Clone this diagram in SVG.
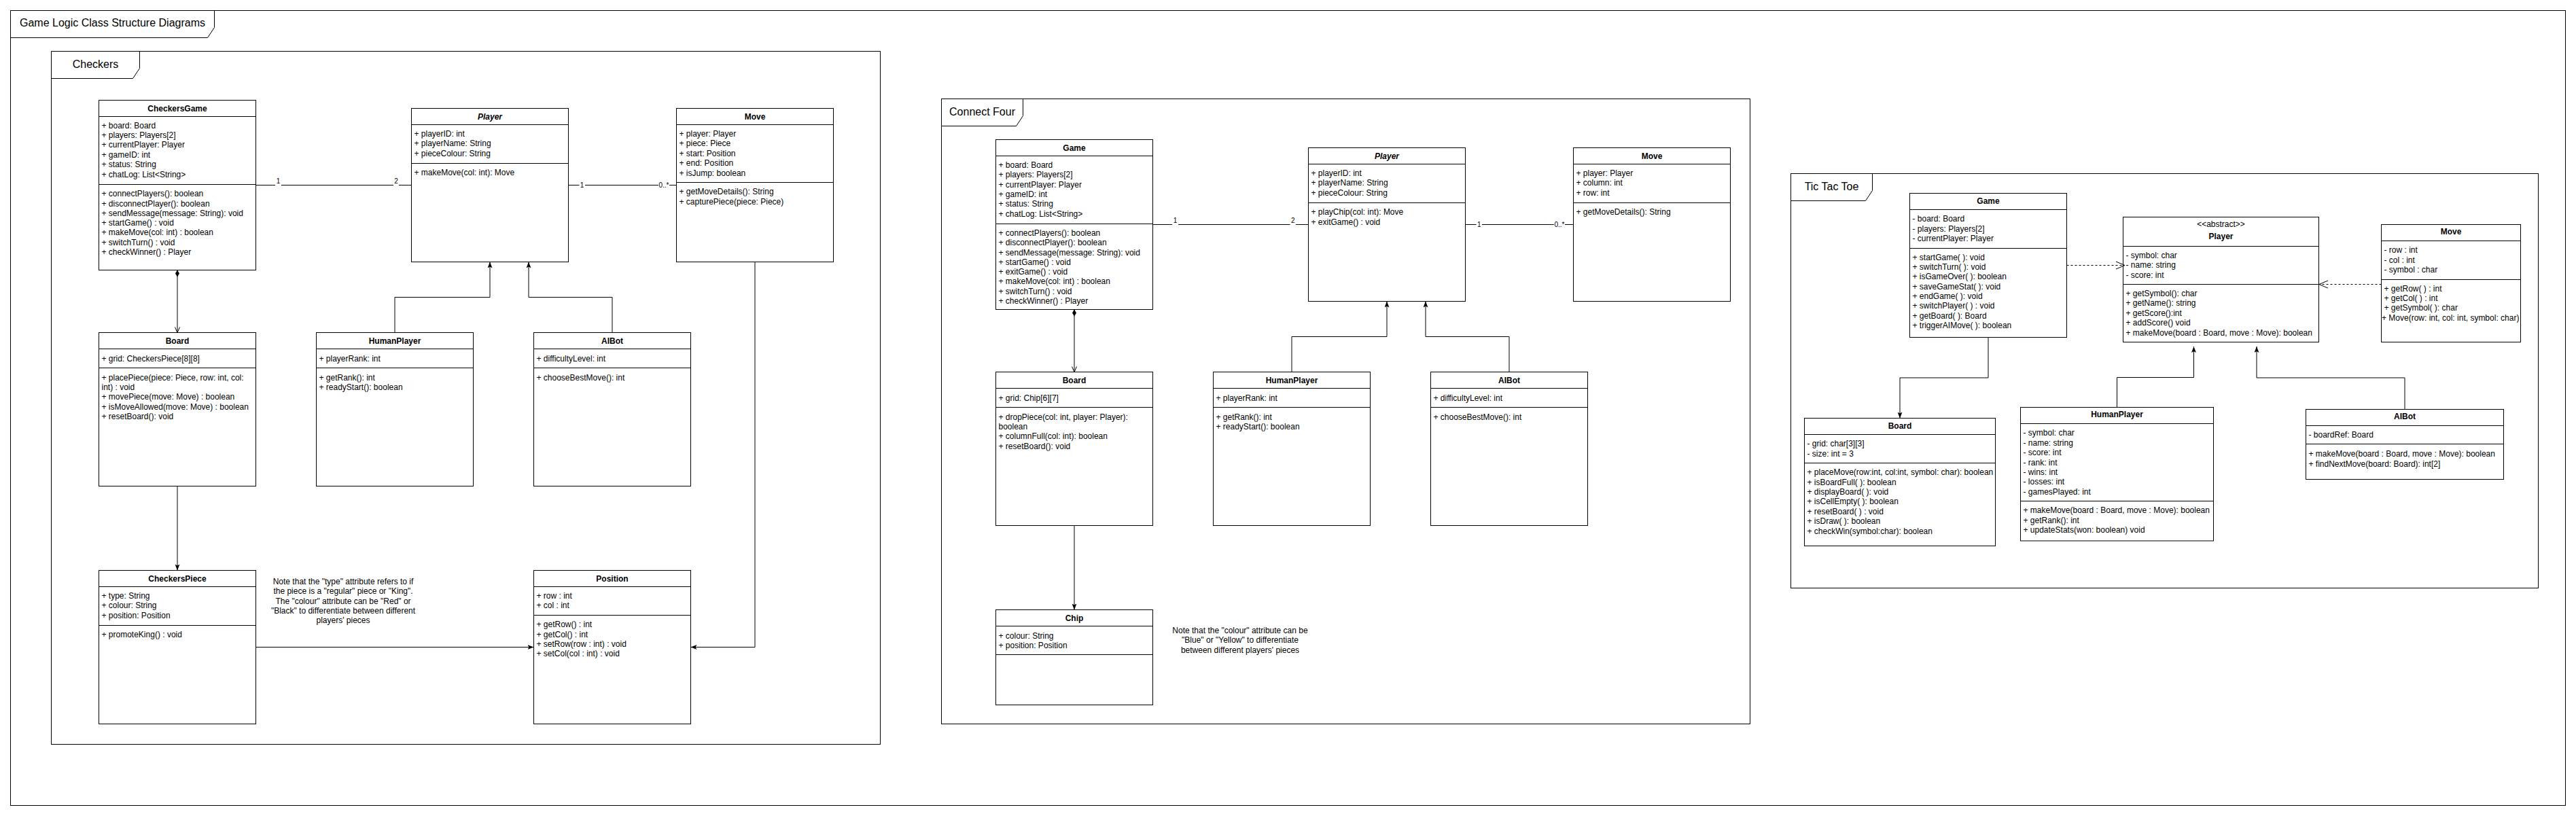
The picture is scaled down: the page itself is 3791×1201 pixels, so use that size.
<svg xmlns="http://www.w3.org/2000/svg" width="3791" height="1201" viewBox="0 0 3791 1201">
<style>
.bx{fill:#fff;stroke:#000;stroke-width:1}
.fr{fill:none;stroke:#000;stroke-width:1}
.tab{fill:#fff;stroke:#000;stroke-width:1}
.ln{fill:none;stroke:#000;stroke-width:1}
.t{font-family:"Liberation Sans",Arial,Helvetica,sans-serif;font-size:12px;fill:#000}
.h{font-weight:bold;text-anchor:middle}
.it{font-style:italic}
.ft{font-family:"Liberation Sans",Arial,Helvetica,sans-serif;font-size:16px;fill:#000;text-anchor:middle}
.nt{text-anchor:middle}
.ml{font-family:"Liberation Sans",Arial,Helvetica,sans-serif;font-size:10px;fill:#000;text-anchor:middle}
.c{fill:none;stroke:#000;stroke-width:1}
.d{stroke-dasharray:3 3}
.lb{fill:#fff;stroke:none}
</style>
<defs>
<marker id="af" viewBox="0 0 9 7" refX="9" refY="3.5" markerWidth="9" markerHeight="7" orient="auto" markerUnits="userSpaceOnUse"><path d="M0,0 L9,3.5 L0,7 L2,3.5 Z" fill="#000"/></marker>
<marker id="ao" viewBox="-1 -1 10 9" refX="8" refY="3.5" markerWidth="10" markerHeight="9" orient="auto" markerUnits="userSpaceOnUse"><path d="M0,0 L8,3.5 L0,7" fill="none" stroke="#000" stroke-width="1"/></marker>
<marker id="aoL" viewBox="-1 -1 15 13" refX="13" refY="5.5" markerWidth="15" markerHeight="13" orient="auto" markerUnits="userSpaceOnUse"><path d="M0,0 L13,5.5 L0,11" fill="none" stroke="#000" stroke-width="1"/></marker>
<marker id="dm" viewBox="0 0 10 6" refX="0" refY="3" markerWidth="10" markerHeight="6" orient="auto" markerUnits="userSpaceOnUse"><path d="M0,3 L5,0 L10,3 L5,6 Z" fill="#000"/></marker>
</defs>
<rect width="3791" height="1201" fill="#fff"/>

<g id="frame-main">
<rect class="fr" x="15.5" y="15.5" width="3760" height="1170"/>
<path class="tab" d="M15.5,15.5 H315.5 V40.5 L305.5,55.5 H15.5 Z"/>
<text class="ft" x="165.5" y="39">Game Logic Class Structure Diagrams</text>
</g>

<g id="frame-checkers">
<rect class="fr" x="75.5" y="75.5" width="1220" height="1020"/>
<path class="tab" d="M75.5,75.5 H205.5 V100.5 L195.5,115.5 H75.5 Z"/>
<text class="ft" x="140.5" y="100">Checkers</text>
</g>

<g id="frame-connectfour">
<rect class="fr" x="1385.5" y="145.5" width="1190" height="920"/>
<path class="tab" d="M1385.5,145.5 H1505.5 V170.5 L1495.5,185.5 H1385.5 Z"/>
<text class="ft" x="1445.5" y="170">Connect Four</text>
</g>

<g id="frame-tictactoe">
<rect class="fr" x="2635.5" y="255.5" width="1100" height="610"/>
<path class="tab" d="M2635.5,255.5 H2755.5 V280.5 L2745.5,295.5 H2635.5 Z"/>
<text class="ft" x="2695.5" y="279.5">Tic Tac Toe</text>
</g>

<!-- ================= CHECKERS ================= -->
<g id="ck-game">
<rect class="bx" x="145.5" y="147.5" width="231" height="250"/>
<path class="ln" d="M145.5,171.5 H376.5 M145.5,271.5 H376.5"/>
<text class="t h" x="261" y="163.8">CheckersGame</text>
<text class="t"><tspan x="149.5" y="188.5">+ board: Board</tspan><tspan x="149.5" y="202.9">+ players: Players[2]</tspan><tspan x="149.5" y="217.3">+ currentPlayer: Player</tspan><tspan x="149.5" y="231.7">+ gameID: int</tspan><tspan x="149.5" y="246.1">+ status: String</tspan><tspan x="149.5" y="260.5">+ chatLog: List&lt;String&gt;</tspan></text>
<text class="t"><tspan x="149.5" y="289.2">+ connectPlayers(): boolean</tspan><tspan x="149.5" y="303.5">+ disconnectPlayer(): boolean</tspan><tspan x="149.5" y="317.8">+ sendMessage(message: String): void</tspan><tspan x="149.5" y="332.1">+ startGame() : void</tspan><tspan x="149.5" y="346.4">+ makeMove(col: int) : boolean</tspan><tspan x="149.5" y="360.7">+ switchTurn() : void</tspan><tspan x="149.5" y="375">+ checkWinner() : Player</tspan></text>
</g>

<g id="ck-player">
<rect class="bx" x="605.5" y="159.5" width="231" height="226"/>
<path class="ln" d="M605.5,183.5 H836.5 M605.5,240.5 H836.5"/>
<text class="t h it" x="721" y="175.8">Player</text>
<text class="t"><tspan x="609.5" y="200.9">+ playerID: int</tspan><tspan x="609.5" y="215.3">+ playerName: String</tspan><tspan x="609.5" y="229.7">+ pieceColour: String</tspan></text>
<text class="t" x="609.5" y="258.2">+ makeMove(col: int): Move</text>
</g>

<g id="ck-move">
<rect class="bx" x="995.5" y="159.5" width="231" height="226"/>
<path class="ln" d="M995.5,183.5 H1226.5 M995.5,268.5 H1226.5"/>
<text class="t h" x="1111" y="175.8">Move</text>
<text class="t"><tspan x="999.5" y="200.9">+ player: Player</tspan><tspan x="999.5" y="215.3">+ piece: Piece</tspan><tspan x="999.5" y="229.7">+ start: Position</tspan><tspan x="999.5" y="244.1">+ end: Position</tspan><tspan x="999.5" y="258.5">+ isJump: boolean</tspan></text>
<text class="t"><tspan x="999.5" y="286.2">+ getMoveDetails(): String</tspan><tspan x="999.5" y="300.6">+ capturePiece(piece: Piece)</tspan></text>
</g>

<g id="ck-board">
<rect class="bx" x="145.5" y="489.5" width="231" height="226"/>
<path class="ln" d="M145.5,513.5 H376.5 M145.5,541.5 H376.5"/>
<text class="t h" x="261" y="505.8">Board</text>
<text class="t" x="149.5" y="531.5">+ grid: CheckersPiece[8][8]</text>
<text class="t"><tspan x="149.5" y="559.5">+ placePiece(piece: Piece, row: int, col:</tspan><tspan x="149.5" y="573.9">int) : void</tspan><tspan x="149.5" y="588.3">+ movePiece(move: Move) : boolean</tspan><tspan x="149.5" y="602.7">+ isMoveAllowed(move: Move) : boolean</tspan><tspan x="149.5" y="617.1">+ resetBoard(): void</tspan></text>
</g>

<g id="ck-human">
<rect class="bx" x="465.5" y="489.5" width="231" height="226"/>
<path class="ln" d="M465.5,513.5 H696.5 M465.5,541.5 H696.5"/>
<text class="t h" x="581" y="505.8">HumanPlayer</text>
<text class="t" x="469.5" y="531.5">+ playerRank: int</text>
<text class="t"><tspan x="469.5" y="559.5">+ getRank(): int</tspan><tspan x="469.5" y="573.9">+ readyStart(): boolean</tspan></text>
</g>

<g id="ck-aibot">
<rect class="bx" x="785.5" y="489.5" width="231" height="226"/>
<path class="ln" d="M785.5,513.5 H1016.5 M785.5,541.5 H1016.5"/>
<text class="t h" x="901" y="505.8">AIBot</text>
<text class="t" x="789.5" y="531.5">+ difficultyLevel: int</text>
<text class="t" x="789.5" y="559.5">+ chooseBestMove(): int</text>
</g>

<g id="ck-piece">
<rect class="bx" x="145.5" y="839.5" width="231" height="226"/>
<path class="ln" d="M145.5,863.5 H376.5 M145.5,920.5 H376.5"/>
<text class="t h" x="261" y="855.8">CheckersPiece</text>
<text class="t"><tspan x="149.5" y="880.9">+ type: String</tspan><tspan x="149.5" y="895.3">+ colour: String</tspan><tspan x="149.5" y="909.7">+ position: Position</tspan></text>
<text class="t" x="149.5" y="937.5">+ promoteKing() : void</text>
</g>

<g id="ck-position">
<rect class="bx" x="785.5" y="839.5" width="231" height="226"/>
<path class="ln" d="M785.5,863.5 H1016.5 M785.5,905.5 H1016.5"/>
<text class="t h" x="901" y="855.8">Position</text>
<text class="t"><tspan x="789.5" y="880.9">+ row : int</tspan><tspan x="789.5" y="895.3">+ col : int</tspan></text>
<text class="t"><tspan x="789.5" y="923.2">+ getRow() : int</tspan><tspan x="789.5" y="937.6">+ getCol() : int</tspan><tspan x="789.5" y="952">+ setRow(row : int) : void</tspan><tspan x="789.5" y="966.4">+ setCol(col : int) : void</tspan></text>
</g>

<g id="ck-note">
<text class="t nt"><tspan x="505" y="860.2">Note that the "type" attribute refers to if</tspan><tspan x="505" y="874.4">the piece is a "regular" piece or "King".</tspan><tspan x="505" y="888.6">The "colour" attribute can be "Red" or</tspan><tspan x="505" y="902.8">"Black" to differentiate between different</tspan><tspan x="505" y="917">players' pieces</tspan></text>
</g>

<!-- ================= CONNECT FOUR ================= -->
<g id="cf-game">
<rect class="bx" x="1465.5" y="205.5" width="231" height="250"/>
<path class="ln" d="M1465.5,229.5 H1696.5 M1465.5,329.5 H1696.5"/>
<text class="t h" x="1581" y="221.8">Game</text>
<text class="t"><tspan x="1469.5" y="246.7">+ board: Board</tspan><tspan x="1469.5" y="261.1">+ players: Players[2]</tspan><tspan x="1469.5" y="275.5">+ currentPlayer: Player</tspan><tspan x="1469.5" y="289.9">+ gameID: int</tspan><tspan x="1469.5" y="304.3">+ status: String</tspan><tspan x="1469.5" y="318.7">+ chatLog: List&lt;String&gt;</tspan></text>
<text class="t"><tspan x="1469.5" y="346.9">+ connectPlayers(): boolean</tspan><tspan x="1469.5" y="361.2">+ disconnectPlayer(): boolean</tspan><tspan x="1469.5" y="375.5">+ sendMessage(message: String): void</tspan><tspan x="1469.5" y="389.8">+ startGame() : void</tspan><tspan x="1469.5" y="404.1">+ exitGame() : void</tspan><tspan x="1469.5" y="418.4">+ makeMove(col: int) : boolean</tspan><tspan x="1469.5" y="432.7">+ switchTurn() : void</tspan><tspan x="1469.5" y="447">+ checkWinner() : Player</tspan></text>
</g>

<g id="cf-player">
<rect class="bx" x="1925.5" y="217.5" width="231" height="226"/>
<path class="ln" d="M1925.5,241.5 H2156.5 M1925.5,298.5 H2156.5"/>
<text class="t h it" x="2041" y="233.8">Player</text>
<text class="t"><tspan x="1929.5" y="258.9">+ playerID: int</tspan><tspan x="1929.5" y="273.3">+ playerName: String</tspan><tspan x="1929.5" y="287.7">+ pieceColour: String</tspan></text>
<text class="t"><tspan x="1929.5" y="316.2">+ playChip(col: int): Move</tspan><tspan x="1929.5" y="330.6">+ exitGame() : void</tspan></text>
</g>

<g id="cf-move">
<rect class="bx" x="2315.5" y="217.5" width="231" height="226"/>
<path class="ln" d="M2315.5,241.5 H2546.5 M2315.5,298.5 H2546.5"/>
<text class="t h" x="2431" y="233.8">Move</text>
<text class="t"><tspan x="2319.5" y="258.9">+ player: Player</tspan><tspan x="2319.5" y="273.3">+ column: int</tspan><tspan x="2319.5" y="287.7">+ row: int</tspan></text>
<text class="t" x="2319.5" y="316.2">+ getMoveDetails(): String</text>
</g>

<g id="cf-board">
<rect class="bx" x="1465.5" y="547.5" width="231" height="226"/>
<path class="ln" d="M1465.5,571.5 H1696.5 M1465.5,599.5 H1696.5"/>
<text class="t h" x="1581" y="563.8">Board</text>
<text class="t" x="1469.5" y="589.5">+ grid: Chip[6][7]</text>
<text class="t"><tspan x="1469.5" y="617.5">+ dropPiece(col: int, player: Player):</tspan><tspan x="1469.5" y="631.9">boolean</tspan><tspan x="1469.5" y="646.3">+ columnFull(col: int): boolean</tspan><tspan x="1469.5" y="660.7">+ resetBoard(): void</tspan></text>
</g>

<g id="cf-human">
<rect class="bx" x="1785.5" y="547.5" width="231" height="226"/>
<path class="ln" d="M1785.5,571.5 H2016.5 M1785.5,599.5 H2016.5"/>
<text class="t h" x="1901" y="563.8">HumanPlayer</text>
<text class="t" x="1789.5" y="589.5">+ playerRank: int</text>
<text class="t"><tspan x="1789.5" y="617.5">+ getRank(): int</tspan><tspan x="1789.5" y="631.9">+ readyStart(): boolean</tspan></text>
</g>

<g id="cf-aibot">
<rect class="bx" x="2105.5" y="547.5" width="231" height="226"/>
<path class="ln" d="M2105.5,571.5 H2336.5 M2105.5,599.5 H2336.5"/>
<text class="t h" x="2221" y="563.8">AIBot</text>
<text class="t" x="2109.5" y="589.5">+ difficultyLevel: int</text>
<text class="t" x="2109.5" y="617.5">+ chooseBestMove(): int</text>
</g>

<g id="cf-chip">
<rect class="bx" x="1465.5" y="897.5" width="231" height="140"/>
<path class="ln" d="M1465.5,921.5 H1696.5 M1465.5,963.5 H1696.5"/>
<text class="t h" x="1581" y="913.8">Chip</text>
<text class="t"><tspan x="1469.5" y="939.6">+ colour: String</tspan><tspan x="1469.5" y="954">+ position: Position</tspan></text>
</g>

<g id="cf-note">
<text class="t nt"><tspan x="1825" y="931.7">Note that the "colour" attribute can be</tspan><tspan x="1825" y="946.1">"Blue" or "Yellow" to differentiate</tspan><tspan x="1825" y="960.5">between different players' pieces</tspan></text>
</g>

<!-- ================= TIC TAC TOE ================= -->
<g id="ttt-game">
<rect class="bx" x="2810.5" y="284.5" width="231" height="212"/>
<path class="ln" d="M2810.5,308.5 H3041.5 M2810.5,365.5 H3041.5"/>
<text class="t h" x="2926" y="299.5">Game</text>
<text class="t"><tspan x="2814.5" y="326.2">- board: Board</tspan><tspan x="2814.5" y="340.6">- players: Players[2]</tspan><tspan x="2814.5" y="355">- currentPlayer: Player</tspan></text>
<text class="t"><tspan x="2814.5" y="382.8">+ startGame( ): void</tspan><tspan x="2814.5" y="397.1">+ switchTurn( ): void</tspan><tspan x="2814.5" y="411.4">+ isGameOver( ): boolean</tspan><tspan x="2814.5" y="425.7">+ saveGameStat( ): void</tspan><tspan x="2814.5" y="440">+ endGame( ): void</tspan><tspan x="2814.5" y="454.3">+ switchPlayer( ) : void</tspan><tspan x="2814.5" y="468.6">+ getBoard( ): Board</tspan><tspan x="2814.5" y="482.9">+ triggerAIMove( ): boolean</tspan></text>
</g>

<g id="ttt-player">
<rect class="bx" x="3124.5" y="319.5" width="288" height="184"/>
<path class="ln" d="M3124.5,362.5 H3412.5 M3124.5,418.5 H3412.5"/>
<text class="t nt" x="3268.5" y="334.2">&lt;&lt;abstract&gt;&gt;</text>
<text class="t h" x="3268.5" y="352">Player</text>
<text class="t"><tspan x="3128.5" y="380">- symbol: char</tspan><tspan x="3128.5" y="394.4">- name: string</tspan><tspan x="3128.5" y="408.8">- score: int</tspan></text>
<text class="t"><tspan x="3128.5" y="435.8">+ getSymbol(): char</tspan><tspan x="3128.5" y="450.3">+ getName(): string</tspan><tspan x="3128.5" y="464.8">+ getScore():int</tspan><tspan x="3128.5" y="479.1">+ addScore() void</tspan><tspan x="3128.5" y="494">+ makeMove(board : Board, move : Move): boolean</tspan></text>
</g>

<g id="ttt-move">
<rect class="bx" x="3504.5" y="330.5" width="205" height="173"/>
<path class="ln" d="M3504.5,354.5 H3709.5 M3504.5,411.5 H3709.5"/>
<text class="t h" x="3607" y="344.7">Move</text>
<text class="t"><tspan x="3508.5" y="372">- row : int</tspan><tspan x="3508.5" y="386.6">- col : int</tspan><tspan x="3508.5" y="400.9">- symbol : char</tspan></text>
<text class="t"><tspan x="3508.5" y="429">+ getRow( ) : int</tspan><tspan x="3508.5" y="443.1">+ getCol( ) : int</tspan><tspan x="3508.5" y="457.1">+ getSymbol( ): char</tspan><tspan x="3505" y="472">+ Move(row: int, col: int, symbol: char)</tspan></text>
</g>

<g id="ttt-board">
<rect class="bx" x="2655.5" y="615.5" width="281" height="188"/>
<path class="ln" d="M2655.5,639.5 H2936.5 M2655.5,681.5 H2936.5"/>
<text class="t h" x="2796" y="630.5">Board</text>
<text class="t"><tspan x="2659.5" y="657.2">- grid: char[3][3]</tspan><tspan x="2659.5" y="671.7">- size: int = 3</tspan></text>
<text class="t"><tspan x="2659.5" y="699">+ placeMove(row:int, col:int, symbol: char): boolean</tspan><tspan x="2659.5" y="713.9">+ isBoardFull( ): boolean</tspan><tspan x="2659.5" y="727.9">+ displayBoard( ): void</tspan><tspan x="2659.5" y="742">+ isCellEmpty( ): boolean</tspan><tspan x="2659.5" y="756.9">+ resetBoard( ) : void</tspan><tspan x="2659.5" y="770.9">+ isDraw( ): boolean</tspan><tspan x="2659.5" y="785.8">+ checkWin(symbol:char): boolean</tspan></text>
</g>

<g id="ttt-human">
<rect class="bx" x="2973.5" y="599.5" width="284" height="196.5"/>
<path class="ln" d="M2973.5,623.5 H3257.5 M2973.5,737.5 H3257.5"/>
<text class="t h" x="3115.5" y="613.8">HumanPlayer</text>
<text class="t"><tspan x="2977.5" y="641.2">- symbol: char</tspan><tspan x="2977.5" y="655.6">- name: string</tspan><tspan x="2977.5" y="670.1">- score: int</tspan><tspan x="2977.5" y="684.9">- rank: int</tspan><tspan x="2977.5" y="699">- wins: int</tspan><tspan x="2977.5" y="712.7">- losses: int</tspan><tspan x="2977.5" y="727.9">- gamesPlayed: int</tspan></text>
<text class="t"><tspan x="2977.5" y="754.8">+ makeMove(board : Board, move : Move): boolean</tspan><tspan x="2977.5" y="770.1">+ getRank(): int</tspan><tspan x="2977.5" y="783.8">+ updateStats(won: boolean) void</tspan></text>
</g>

<g id="ttt-aibot">
<rect class="bx" x="3393.5" y="602.5" width="291" height="103"/>
<path class="ln" d="M3393.5,626.5 H3684.5 M3393.5,653.5 H3684.5"/>
<text class="t h" x="3539" y="617">AIBot</text>
<text class="t" x="3397.5" y="644">- boardRef: Board</text>
<text class="t"><tspan x="3397.5" y="672.1">+ makeMove(board : Board, move : Move): boolean</tspan><tspan x="3397.5" y="686.5">+ findNextMove(board: Board): int[2]</tspan></text>
</g>

<!-- ================= CONNECTORS ================= -->
<g id="connectors">
<!-- Checkers -->
<path class="c" d="M376.5,272.5 H605.5"/>
<rect class="lb" x="405" y="260" width="9" height="14"/>
<text class="ml" x="409.5" y="270">1</text>
<rect class="lb" x="579" y="260" width="8" height="14"/>
<text class="ml" x="583" y="270">2</text>
<path class="c" d="M836.5,272.5 H995.5"/>
<rect class="lb" x="852.5" y="266" width="8.5" height="13"/>
<text class="ml" x="856.6" y="276">1</text>
<rect class="lb" x="969" y="266" width="16" height="13"/>
<text class="ml" x="977" y="276">0..*</text>
<path class="c" d="M261,397.5 V489.5" marker-start="url(#dm)" marker-end="url(#ao)"/>
<path class="c" d="M261,715.5 V839.5" marker-end="url(#af)"/>
<path class="c" d="M581,489.5 V437.5 H721 V385.5" marker-end="url(#af)"/>
<path class="c" d="M901,489.5 V437.5 H778 V385.5" marker-end="url(#af)"/>
<path class="c" d="M376.5,952.5 H785.5" marker-end="url(#af)"/>
<path class="c" d="M1111,385.5 V952.5 H1016.5" marker-end="url(#af)"/>
<!-- Connect Four -->
<path class="c" d="M1696.5,330.5 H1925.5"/>
<rect class="lb" x="1725" y="318" width="9" height="14"/>
<text class="ml" x="1729.5" y="328">1</text>
<rect class="lb" x="1898.5" y="318" width="8.5" height="14"/>
<text class="ml" x="1902.7" y="328">2</text>
<path class="c" d="M2156.5,330.5 H2315.5"/>
<rect class="lb" x="2172.5" y="324" width="8.5" height="13"/>
<text class="ml" x="2176.8" y="334">1</text>
<rect class="lb" x="2287" y="324" width="16" height="13"/>
<text class="ml" x="2295" y="334">0..*</text>
<path class="c" d="M1581,455.5 V547.5" marker-start="url(#dm)" marker-end="url(#ao)"/>
<path class="c" d="M1581,773.5 V897.5" marker-end="url(#af)"/>
<path class="c" d="M1901,547.5 V495.5 H2041 V443.5" marker-end="url(#af)"/>
<path class="c" d="M2221,547.5 V495.5 H2098 V443.5" marker-end="url(#af)"/>
<!-- Tic Tac Toe -->
<path class="c d" d="M3041.5,390.5 H3127" marker-end="url(#aoL)"/>
<path class="c d" d="M3504.5,418.5 H3413" marker-end="url(#aoL)"/>
<path class="c" d="M2926,496.5 V556 H2796 V615.5" marker-end="url(#af)"/>
<path class="c" d="M3115.5,599.5 V555.5 H3228.5 V510" marker-end="url(#af)"/>
<path class="c" d="M3539,602.5 V556 H3321 V510" marker-end="url(#af)"/>
</g>
</svg>
